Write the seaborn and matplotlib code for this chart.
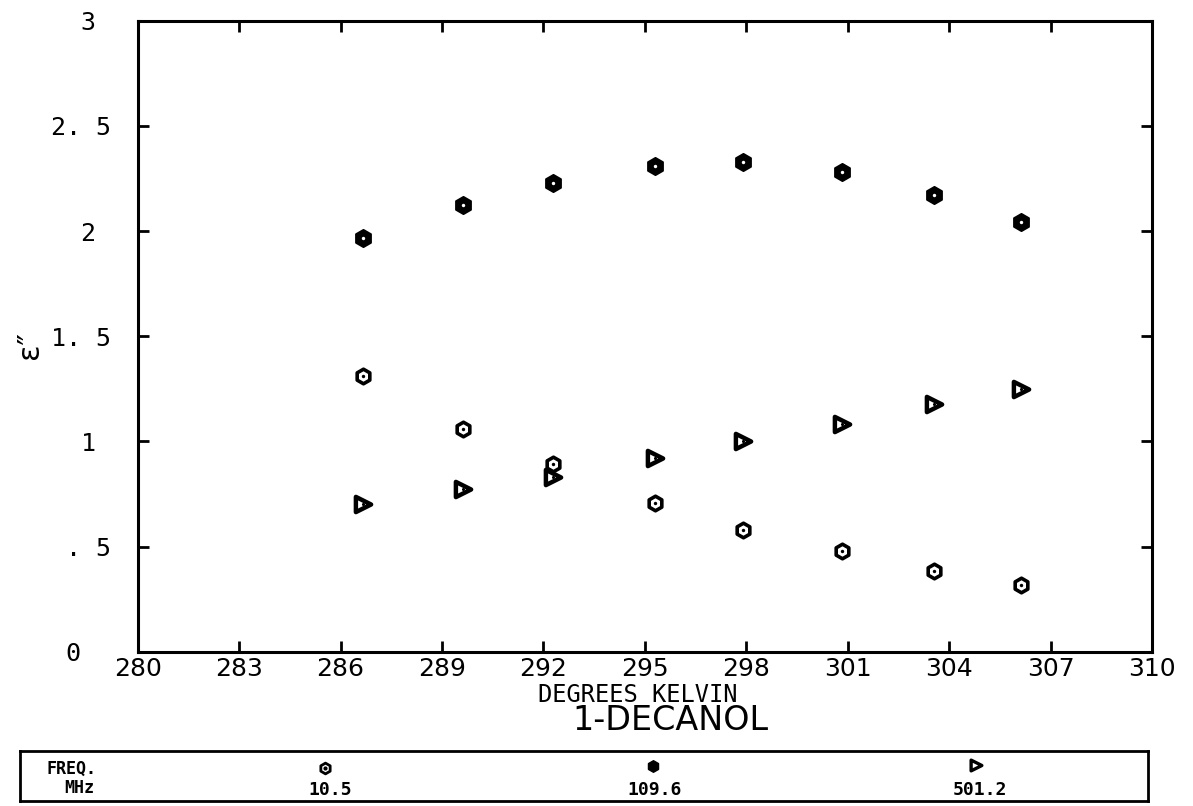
import pandas as pd
import seaborn as sns
import matplotlib.pyplot as plt
import numpy as np

# datos (1-decanol, perdida dielectrica)
temps = [286.65, 289.63, 292.27, 295.29, 297.91, 300.83, 303.55, 306.12]
eps_105 = [1.313, 1.060, 0.894, 0.708, 0.580, 0.480, 0.384, 0.318]
eps_1096 = [1.965, 2.122, 2.227, 2.308, 2.327, 2.280, 2.170, 2.041]
eps_5012 = [0.703, 0.775, 0.832, 0.922, 1.003, 1.084, 1.180, 1.251]

freqs = ['10.5', '109.6', '501.2']
x_ticks = [280, 283, 286, 289, 292, 295, 298, 301, 304, 307, 310]
y_ticks = [0, 0.5, 1, 1.5, 2, 2.5, 3]
y_labels = ['0  ', '. 5', '1 ', '1. 5', '2 ', '2. 5', '3 ']

df = pd.DataFrame({'T': temps, 'f105': eps_105, 'f1096': eps_1096, 'f5012': eps_5012})

sns.set_style('white')
plt.rcParams['font.family'] = ['DejaVu Sans Mono', 'DejaVu Sans']
plt.rcParams['text.color'] = 'black'
plt.rcParams['xtick.color'] = 'black'
plt.rcParams['ytick.color'] = 'black'

fig = plt.figure(figsize=(11.93, 8.06), dpi=100)
ax = fig.add_axes([0.1154, 0.1914, 0.8502, 0.7829])

# 10.5 MHz: hexagono abierto con punto
sns.scatterplot(data=df, x='T', y='f105', marker='h', s=110, facecolor='white',
                edgecolor='black', linewidth=2.6, ax=ax, zorder=3)
sns.scatterplot(data=df, x='T', y='f105', marker='o', s=6, color='black',
                linewidth=0, ax=ax, zorder=4)
# 109.6 MHz: hexagono relleno
sns.scatterplot(data=df, x='T', y='f1096', marker='h', s=150, color='black',
                edgecolor='black', linewidth=1.5, ax=ax, zorder=3)
sns.scatterplot(data=df, x='T', y='f1096', marker='o', s=6, color='white',
                linewidth=0, ax=ax, zorder=4)
# 501.2 MHz: triangulo
sns.scatterplot(data=df, x='T', y='f5012', marker='>', s=120, facecolor='white',
                edgecolor='black', linewidth=3.2, ax=ax, zorder=3)
sns.scatterplot(data=df, x='T', y='f5012', marker='o', s=5, color='black',
                linewidth=0, ax=ax, zorder=4)

ax.set_xlim(280, 310)
ax.set_ylim(0, 3)
ax.set_xticks(x_ticks)
ax.set_xticklabels([str(t) for t in x_ticks], fontsize=18, family=['DejaVu Sans'])
ax.set_yticks(y_ticks)
ax.set_yticklabels(y_labels, fontsize=18)
ax.tick_params(axis='both', direction='in', length=8, width=2,
               top=True, right=True, bottom=True, left=True)
ax.tick_params(axis='x', pad=4)
ax.tick_params(axis='y', pad=19)
for sp in ax.spines.values():
    sp.set_linewidth(2.2)
    sp.set_color('black')
ax.set_xlabel('')
ax.set_ylabel('')

fig.text(30 / 1193, 1 - 345 / 806, 'ε″', rotation=90, fontsize=22,
         ha='center', va='center', family=['DejaVu Sans'])
fig.text(638 / 1193, 1 - 695 / 806, 'DEGREES KELVIN', fontsize=17,
         ha='center', va='center')
fig.text(670 / 1193, 1 - 721 / 806, '1-DECANOL', fontsize=24,
         ha='center', va='center', family=['DejaVu Sans'])

# caja de leyenda
lax = fig.add_axes([20 / 1193, 1 - 801 / 806, 1128 / 1193, 50 / 806])
lax.set_xlim(0, 1128)
lax.set_ylim(50, 0)
lax.set_xticks([])
lax.set_yticks([])
for sp in lax.spines.values():
    sp.set_linewidth(2)
    sp.set_color('black')
lax.text(51, 18, 'FREQ.', fontsize=12, fontweight='bold', ha='center', va='center')
lax.text(59, 37, 'MHz', fontsize=12, fontweight='bold', ha='center', va='center')
lx = [305, 633, 956]
ly = [17, 15, 14]
lax.scatter([lx[0]], [ly[0]], marker='h', s=60, facecolor='white', edgecolor='black', linewidth=2)
lax.scatter([lx[0]], [ly[0]], marker='o', s=4, color='black')
lax.scatter([lx[1]], [ly[1]], marker='h', s=70, color='black')
lax.scatter([lx[2]], [ly[2]], marker='>', s=60, facecolor='white', edgecolor='black', linewidth=2.4)
for xx, lab in zip([310, 635, 960], freqs):
    lax.text(xx, 39, lab, fontsize=13, fontweight='bold', ha='center', va='center')

fig.savefig('out.png', dpi=100)
